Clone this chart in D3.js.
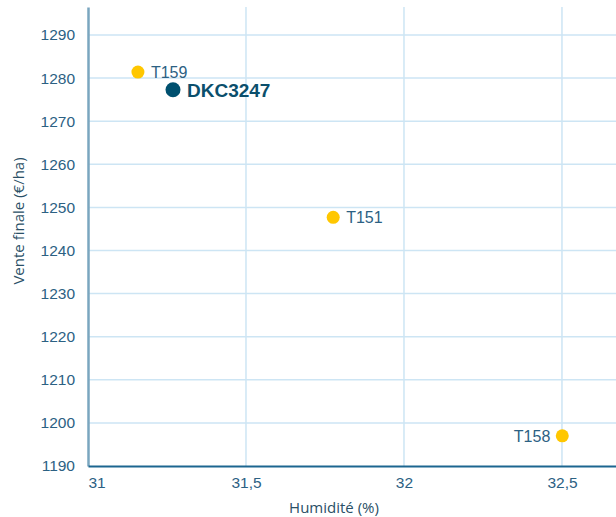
<!DOCTYPE html>
<html>
<head>
<meta charset="utf-8">
<script src="https://cdn.jsdelivr.net/npm/d3@7"></script>
<style>
  body { margin: 0; background: #fff; }
  svg text { font-family: "Helvetica Neue", Helvetica, "Liberation Sans", Arial, sans-serif; }
</style>
</head>
<body>
<div id="chart"></div>
<script>
// data
var names = ["T159", "DKC3247", "T151", "T158"];
var humidity = [31.158, 31.269, 31.776, 32.501];
var sale = [1281.4, 1277.3, 1247.7, 1197.0];
var highlight = [false, true, false, false];
var labelSide = ["right", "right", "right", "left"];

var xTicks = [31, 31.5, 32, 32.5];
var yTicks = [1190, 1200, 1210, 1220, 1230, 1240, 1250, 1260, 1270, 1280, 1290];

var W = 616, H = 517;
var margin = {top: 7, right: 0, bottom: 51, left: 88};
var width = W - margin.left - margin.right,
    height = H - margin.top - margin.bottom;

var svg = d3.select("#chart").append("svg")
    .attr("width", W)
    .attr("height", H);
var g = svg.append("g")
    .attr("transform", "translate(" + margin.left + "," + margin.top + ")");

var x = d3.scaleLinear().domain([31, 32.671]).range([0, width]);
var y = d3.scaleLinear().domain([1190, 1296.5]).range([height, 0]);

var fmt = function(d) { return String(d).replace(".", ","); };

// grid
g.append("g").selectAll("line").data(yTicks.slice(1)).enter().append("line")
    .attr("x1", 0).attr("x2", width)
    .attr("y1", function(d) { return y(d); }).attr("y2", function(d) { return y(d); })
    .attr("stroke", "#cde5f4").attr("stroke-width", 1.5);
g.append("g").selectAll("line").data(xTicks.slice(1)).enter().append("line")
    .attr("y1", 0).attr("y2", height)
    .attr("x1", function(d) { return x(d); }).attr("x2", function(d) { return x(d); })
    .attr("stroke", "#cde5f4").attr("stroke-width", 1.5);

// axes
var yAxis = g.append("g")
    .call(d3.axisLeft(y).tickValues(yTicks).tickSize(0).tickPadding(13).tickFormat(d3.format("d")));
yAxis.select(".domain").attr("stroke", "#7aa6bf").attr("stroke-width", 2.5);
yAxis.selectAll("text").attr("fill", "#2c6183").style("font-size", "15.5px");

var xAxis = g.append("g")
    .attr("transform", "translate(0," + height + ")")
    .call(d3.axisBottom(x).tickValues(xTicks).tickSize(0).tickPadding(11).tickFormat(fmt));
xAxis.select(".domain").attr("stroke", "#1c6690").attr("stroke-width", 2);
xAxis.selectAll("text").attr("fill", "#2c6183").style("font-size", "15.5px")
    .attr("dy", "0.71em")
    .attr("text-anchor", function(d, i) { return i === 0 ? "start" : "middle"; });

// axis titles
svg.append("text")
    .attr("x", 334).attr("y", 513)
    .attr("text-anchor", "middle")
    .attr("fill", "#2a4f66")
    .style("font-family", "'Open Sans', sans-serif")
    .style("font-size", "15px")
    .text("Humidité (%)");
svg.append("text")
    .attr("transform", "translate(24,221) rotate(-90)")
    .attr("text-anchor", "middle")
    .attr("fill", "#2a4f66")
    .style("font-family", "'Open Sans', sans-serif")
    .style("font-size", "15px")
    .text("Vente finale (€/ha)");

// points
var idx = d3.range(names.length);
g.selectAll(".dot").data(idx).enter().append("circle")
    .attr("cx", function(i) { return x(humidity[i]); })
    .attr("cy", function(i) { return y(sale[i]); })
    .attr("r", function(i) { return highlight[i] ? 7.5 : 6.5; })
    .attr("fill", function(i) { return highlight[i] ? "#00506f" : "#ffc700"; });

g.selectAll(".lbl").data(idx).enter().append("text")
    .attr("x", function(i) { return x(humidity[i]) + (labelSide[i] === "left" ? -12 : (highlight[i] ? 14 : 13)); })
    .attr("y", function(i) { return y(sale[i]); })
    .attr("dy", "0.36em")
    .attr("text-anchor", function(i) { return labelSide[i] === "left" ? "end" : "start"; })
    .attr("fill", function(i) { return highlight[i] ? "#0b4f6c" : "#2c6183"; })
    .style("font-weight", function(i) { return highlight[i] ? "bold" : "normal"; })
    .style("font-size", function(i) { return highlight[i] ? "19px" : "16px"; })
    .text(function(i) { return names[i]; });
</script>
</body>
</html>
